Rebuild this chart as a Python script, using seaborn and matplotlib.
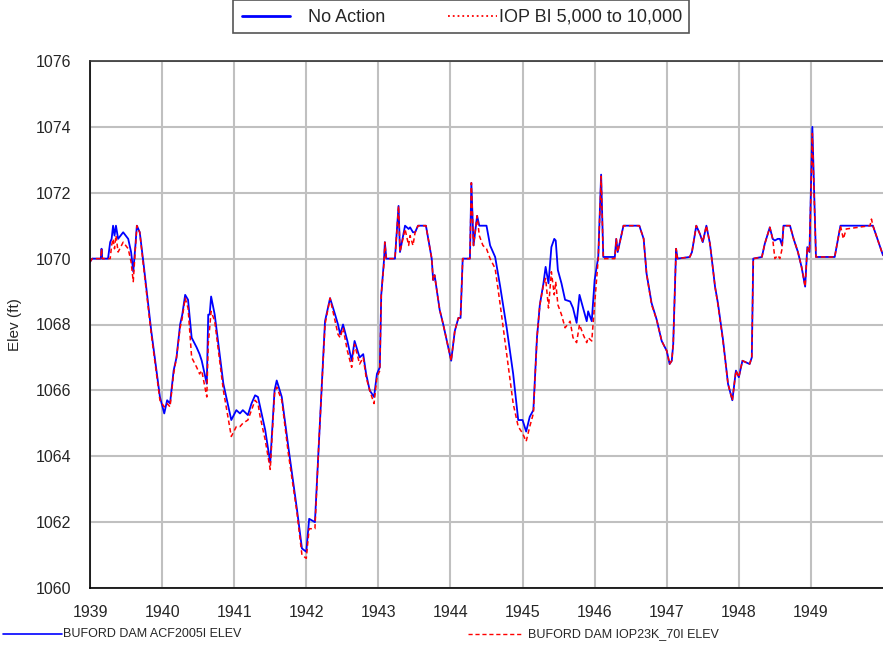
import numpy as np
import pandas as pd
import seaborn as sns
import matplotlib.pyplot as plt
from matplotlib.lines import Line2D
from matplotlib.patches import Rectangle

# decimal year, elevation (ft)
years = [
    1939.00, 1939.03, 1939.10, 1939.15, 1939.16, 1939.17, 1939.25, 1939.28, 1939.30, 1939.32,
    1939.34, 1939.36, 1939.39, 1939.46, 1939.53, 1939.57, 1939.60, 1939.63, 1939.65, 1939.69,
    1939.74, 1939.85, 1939.97, 1940.03, 1940.07, 1940.11, 1940.16, 1940.20, 1940.25, 1940.28,
    1940.32, 1940.36, 1940.41, 1940.48, 1940.52, 1940.55, 1940.62, 1940.64, 1940.66, 1940.68,
    1940.73, 1940.85, 1940.96, 1941.03, 1941.08, 1941.12, 1941.19, 1941.24, 1941.29, 1941.33,
    1941.36, 1941.43, 1941.50, 1941.56, 1941.59, 1941.66, 1941.75, 1941.87, 1941.94, 1942.00,
    1942.04, 1942.12, 1942.17, 1942.26, 1942.33, 1942.40, 1942.44, 1942.47, 1942.51, 1942.57,
    1942.63, 1942.67, 1942.74, 1942.79, 1942.83, 1942.88, 1942.94, 1942.98, 1943.02, 1943.04,
    1943.08, 1943.09, 1943.11, 1943.23, 1943.28, 1943.30, 1943.37, 1943.42, 1943.44, 1943.48,
    1943.51, 1943.55, 1943.66, 1943.74, 1943.76, 1943.78, 1943.85, 1943.90, 1943.95, 1944.01,
    1944.06, 1944.11, 1944.14, 1944.17, 1944.27, 1944.29, 1944.32, 1944.37, 1944.40, 1944.45,
    1944.50, 1944.55, 1944.62, 1944.69, 1944.78, 1944.87, 1944.94, 1945.00, 1945.05, 1945.10,
    1945.15, 1945.20, 1945.24, 1945.29, 1945.32, 1945.36, 1945.40, 1945.44, 1945.46, 1945.49,
    1945.54, 1945.59, 1945.66, 1945.70, 1945.75, 1945.79, 1945.84, 1945.89, 1945.91, 1945.96,
    1946.00, 1946.05, 1946.09, 1946.12, 1946.28, 1946.30, 1946.32, 1946.40, 1946.62, 1946.68,
    1946.72, 1946.79, 1946.86, 1946.93, 1947.00, 1947.04, 1947.07, 1947.09, 1947.13, 1947.15,
    1947.32, 1947.35, 1947.41, 1947.46, 1947.50, 1947.55, 1947.60, 1947.67, 1947.71, 1947.78,
    1947.85, 1947.91, 1947.96, 1948.00, 1948.05, 1948.15, 1948.18, 1948.20, 1948.32, 1948.36,
    1948.43, 1948.47, 1948.50, 1948.54, 1948.57, 1948.60, 1948.62, 1948.71, 1948.76, 1948.82,
    1948.87, 1948.92, 1948.95, 1948.98, 1949.02, 1949.07, 1949.33, 1949.41, 1949.45, 1949.49,
    1949.82, 1949.84, 1949.86, 1950.00,
]

no_action = [
    1069.9, 1070.0, 1070.0, 1070.0, 1070.3, 1070.0, 1070.0, 1070.5, 1070.6, 1071.0,
    1070.7, 1071.0, 1070.6, 1070.8, 1070.6, 1070.2, 1069.6, 1070.4, 1071.0, 1070.8,
    1069.9, 1067.8, 1065.8, 1065.3, 1065.7, 1065.6, 1066.6, 1067.0, 1068.0, 1068.3,
    1068.9, 1068.75, 1067.6, 1067.3, 1067.1, 1066.9, 1066.2, 1068.3, 1068.3, 1068.85,
    1068.3, 1066.2, 1065.1, 1065.4, 1065.3, 1065.4, 1065.25, 1065.6, 1065.85, 1065.8,
    1065.5, 1064.8, 1063.8, 1066.0, 1066.3, 1065.8, 1064.3, 1062.4, 1061.2, 1061.1,
    1062.1, 1062.0, 1064.2, 1068.1, 1068.8, 1068.3, 1068.0, 1067.7, 1068.0, 1067.5,
    1066.9, 1067.5, 1067.0, 1067.1, 1066.5, 1066.0, 1065.8, 1066.5, 1066.7, 1068.9,
    1070.0, 1070.5, 1070.0, 1070.0, 1071.6, 1070.2, 1071.0, 1070.9, 1070.95, 1070.8,
    1070.8, 1071.0, 1071.0, 1070.0, 1069.35, 1069.5, 1068.45, 1068.0, 1067.5, 1066.9,
    1067.8, 1068.2, 1068.2, 1070.0, 1070.0, 1072.3, 1070.4, 1071.3, 1071.0, 1071.0,
    1071.0, 1070.4, 1070.05, 1069.15, 1067.9, 1066.5, 1065.1, 1065.1, 1064.75, 1065.2,
    1065.4, 1067.6, 1068.6, 1069.25, 1069.75, 1069.25, 1070.35, 1070.6, 1070.55, 1069.65,
    1069.25, 1068.75, 1068.7, 1068.5, 1068.05, 1068.9, 1068.5, 1068.1, 1068.4, 1068.1,
    1069.35, 1070.05, 1072.55, 1070.05, 1070.05, 1070.6, 1070.2, 1071.0, 1071.0, 1070.6,
    1069.55, 1068.65, 1068.15, 1067.5, 1067.2, 1066.8, 1066.9, 1067.4, 1070.3, 1070.0,
    1070.05, 1070.2, 1071.0, 1070.75, 1070.5, 1071.0, 1070.45, 1069.15, 1068.65, 1067.55,
    1066.2, 1065.7, 1066.6, 1066.4, 1066.9, 1066.8, 1067.0, 1070.0, 1070.05, 1070.45,
    1070.95, 1070.6, 1070.55, 1070.6, 1070.6, 1070.4, 1071.0, 1071.0, 1070.6, 1070.2,
    1069.75, 1069.15, 1070.35, 1070.2, 1074.0, 1070.05, 1070.05, 1071.0, 1071.0, 1071.0,
    1071.0, 1071.0, 1071.0, 1070.1,
]

iop_bi = [
    1069.9, 1070.0, 1070.0, 1070.0, 1070.3, 1070.0, 1070.0, 1070.0, 1070.4, 1070.6,
    1070.3, 1070.7, 1070.2, 1070.5, 1070.3, 1069.9, 1069.3, 1070.3, 1071.0, 1070.8,
    1069.8, 1067.7, 1065.7, 1065.5, 1065.6, 1065.5, 1066.5, 1067.0, 1067.9, 1068.2,
    1068.8, 1068.5, 1067.0, 1066.7, 1066.5, 1066.6, 1065.8, 1067.4, 1067.9, 1068.4,
    1068.1, 1066.0, 1064.6, 1064.9, 1064.9, 1065.0, 1065.1, 1065.4, 1065.7, 1065.6,
    1065.2, 1064.5, 1063.6, 1065.9, 1066.1, 1065.7, 1064.1, 1062.3, 1061.0, 1060.9,
    1061.8, 1061.8, 1064.2, 1068.0, 1068.8, 1068.1, 1067.7, 1067.6, 1067.9, 1067.2,
    1066.7, 1067.4, 1066.8, 1067.0, 1066.4, 1066.0, 1065.6, 1066.4, 1066.6, 1068.9,
    1069.9, 1070.5, 1070.0, 1070.0, 1071.6, 1070.2, 1070.9, 1070.4, 1070.7, 1070.4,
    1070.8, 1071.0, 1071.0, 1070.0, 1069.35, 1069.5, 1068.45, 1068.0, 1067.5, 1066.9,
    1067.8, 1068.2, 1068.2, 1070.0, 1070.0, 1072.3, 1070.4, 1071.3, 1070.7, 1070.4,
    1070.3, 1070.0, 1069.7, 1068.6, 1067.1, 1065.6, 1064.9, 1064.7, 1064.45, 1064.9,
    1065.3, 1067.6, 1068.6, 1069.2, 1069.4, 1068.5, 1069.6, 1068.9, 1069.3, 1068.6,
    1068.3, 1067.9, 1068.1, 1067.6, 1067.45, 1068.0, 1067.7, 1067.45, 1067.6, 1067.5,
    1068.6, 1070.0, 1072.5, 1070.0, 1070.0, 1070.6, 1070.2, 1071.0, 1071.0, 1070.6,
    1069.55, 1068.6, 1068.15, 1067.5, 1067.2, 1066.8, 1066.9, 1067.4, 1070.3, 1070.0,
    1070.05, 1070.2, 1071.0, 1070.75, 1070.5, 1071.0, 1070.45, 1069.15, 1068.6, 1067.5,
    1066.2, 1065.7, 1066.6, 1066.4, 1066.9, 1066.8, 1067.0, 1070.0, 1070.05, 1070.45,
    1070.95, 1070.6, 1070.0, 1070.1, 1070.0, 1070.3, 1071.0, 1071.0, 1070.6, 1070.2,
    1069.75, 1069.15, 1070.35, 1070.2, 1073.8, 1070.05, 1070.05, 1071.0, 1070.6, 1070.9,
    1071.0, 1071.2, 1071.0, 1070.1,
]

year_ticks = list(range(1939, 1950))
elev_ticks = list(range(1060, 1077, 2))

df = pd.DataFrame({'year': years, 'no_action': no_action, 'iop_bi': iop_bi})

sns.set_style('white')
plt.rcParams['font.family'] = ['Liberation Sans', 'DejaVu Sans']

W, H = 883, 647


def fx(px):
    return px / W


def fy(py):
    return 1 - py / H


fig = plt.figure(figsize=(W / 100, H / 100), dpi=100)
ax = fig.add_axes([fx(90), fy(588), 793 / W, 527 / H])

sns.lineplot(data=df, x='year', y='no_action', ax=ax, color='#0000ff', linewidth=1.3)
sns.lineplot(data=df, x='year', y='iop_bi', ax=ax, color='#ff0000', linewidth=1.1,
             linestyle=(0, (3, 2)))

ax.set_xlim(1939, 1950)
ax.set_ylim(1060, 1076)
ax.set_xticks(year_ticks)
ax.set_yticks(elev_ticks)
ax.set_xticklabels([str(y) for y in year_ticks], fontsize=11.5)
ax.set_yticklabels([str(v) for v in elev_ticks], fontsize=11.5)
ax.grid(True, color='#c0c0c0', linewidth=1.5)
ax.set_axisbelow(True)
ax.tick_params(axis='x', direction='out', length=5, width=1, color='black', pad=7)
ax.tick_params(axis='y', direction='out', length=6.5, width=1, color='black', pad=7)
ax.set_xlabel('')
ax.set_ylabel('Elev (ft)', fontsize=11)
ax.yaxis.set_label_coords((22 - 90) / 793, 0.5)
ax.spines['right'].set_visible(False)
for side in ['left', 'bottom', 'top']:
    ax.spines[side].set_color('black')
    ax.spines[side].set_linewidth(1.2)
ax.spines['top'].set_color('#333333')

# top legend, drawn by hand to match the original layout
fig.add_artist(Rectangle((fx(233), fy(33)), fx(689) - fx(233), fy(0) - fy(33),
                         transform=fig.transFigure, facecolor='white',
                         edgecolor='#555555', linewidth=1.2))
fig.add_artist(Line2D([fx(242), fx(290)], [fy(16)] * 2, color='#0000ff', linewidth=2))
fig.text(fx(308), fy(17), 'No Action', fontsize=13, va='center')
fig.add_artist(Line2D([fx(448), fx(497)], [fy(16)] * 2, color='#ff0000', linewidth=1.3,
                      linestyle=':'))
fig.text(fx(499), fy(17), 'IOP BI 5,000 to 10,000', fontsize=13, va='center')

# bottom series labels
narrow = ['Liberation Sans Narrow', 'Liberation Sans', 'DejaVu Sans']
fig.add_artist(Line2D([fx(3), fx(62)], [fy(634)] * 2, color='#0000ff', linewidth=1.2))
fig.text(fx(63), fy(634), 'BUFORD DAM ACF2005I ELEV', fontsize=9, va='center', family=narrow)
fig.add_artist(Line2D([fx(468), fx(522)], [fy(634)] * 2, color='#ff0000',
                      linewidth=1.0, linestyle=(0, (3, 2))))
fig.text(fx(528), fy(634), 'BUFORD DAM IOP23K_70I ELEV', fontsize=9, va='center', family=narrow)

fig.savefig('out.png', dpi=100)
